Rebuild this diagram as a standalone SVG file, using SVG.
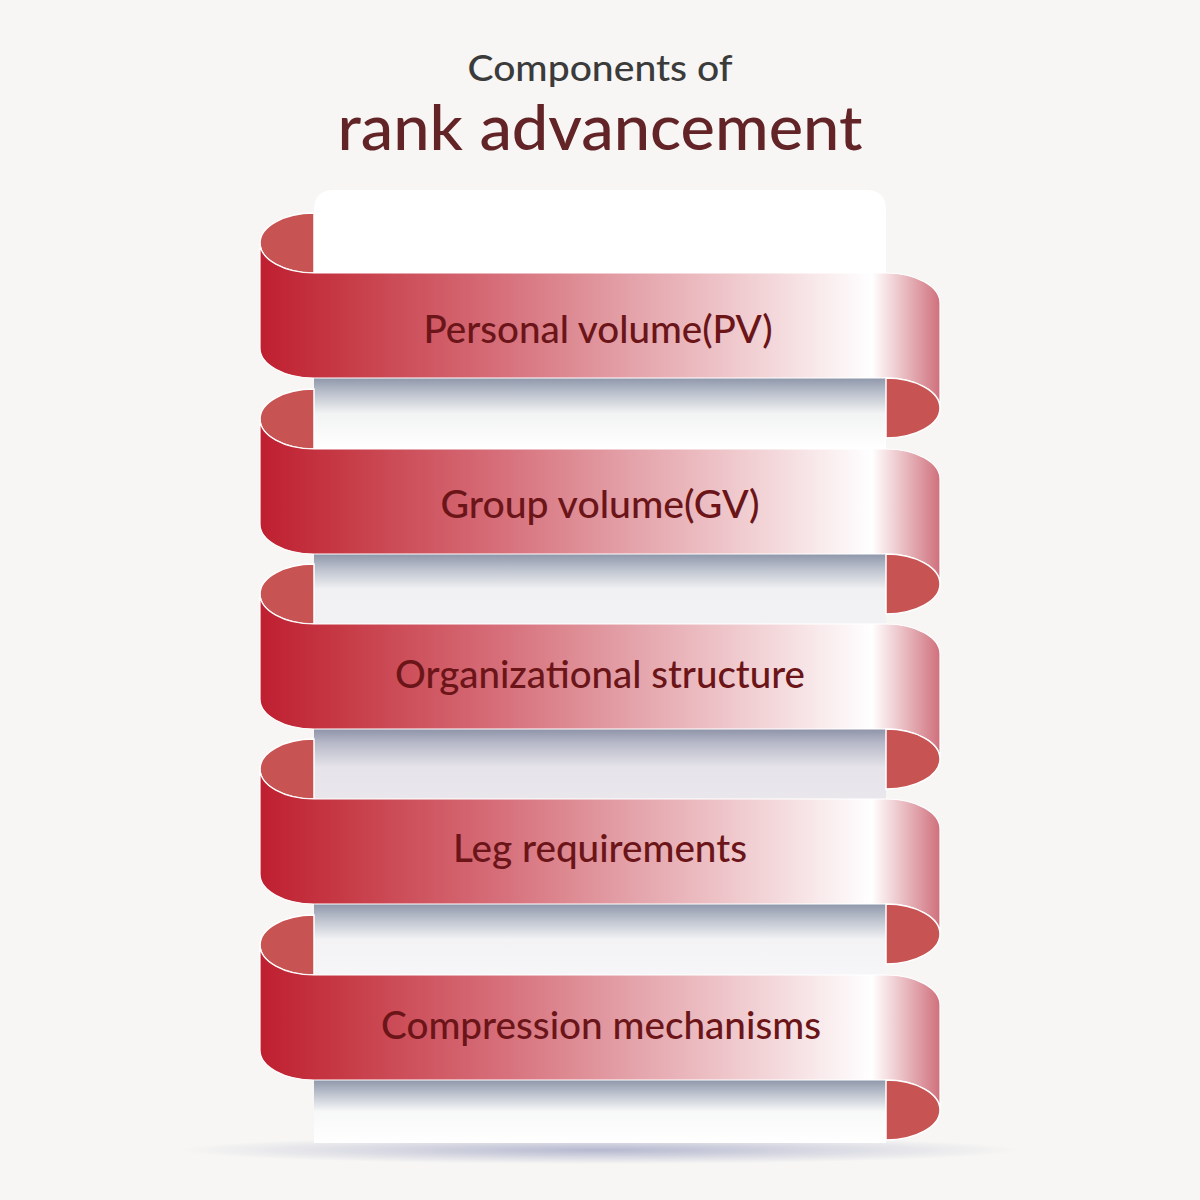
<svg xmlns="http://www.w3.org/2000/svg" width="1200" height="1200" viewBox="0 0 1200 1200">
<defs>
<linearGradient id="band" gradientUnits="userSpaceOnUse" x1="260" y1="0" x2="940" y2="0">
<stop offset="0" stop-color="#bf1f30"/>
<stop offset="0.12" stop-color="#c63a45"/>
<stop offset="0.35" stop-color="#d66e79"/>
<stop offset="0.55" stop-color="#e4a3aa"/>
<stop offset="0.75" stop-color="#f3d6d9"/>
<stop offset="0.9" stop-color="#ffffff"/>
<stop offset="1" stop-color="#d0707c"/>
</linearGradient>
<linearGradient id="p1" x1="0" y1="0" x2="0" y2="1">
<stop offset="0" stop-color="#8e97aa"/><stop offset="0.2" stop-color="#b9bfcb"/><stop offset="0.5" stop-color="#f2f3f3"/><stop offset="1" stop-color="#ffffff"/>
</linearGradient>
<linearGradient id="p2" x1="0" y1="0" x2="0" y2="1">
<stop offset="0" stop-color="#8e97aa"/><stop offset="0.2" stop-color="#b9bfcb"/><stop offset="0.5" stop-color="#f1f1f3"/><stop offset="1" stop-color="#f2f1f4"/>
</linearGradient>
<linearGradient id="p3" x1="0" y1="0" x2="0" y2="1">
<stop offset="0" stop-color="#8e93a8"/><stop offset="0.2" stop-color="#b7b9c8"/><stop offset="0.55" stop-color="#e6e4ea"/><stop offset="1" stop-color="#e9e6ec"/>
</linearGradient>
<linearGradient id="p4" x1="0" y1="0" x2="0" y2="1">
<stop offset="0" stop-color="#8e97aa"/><stop offset="0.2" stop-color="#b9bfcb"/><stop offset="0.5" stop-color="#f3f3f5"/><stop offset="1" stop-color="#f6f5f8"/>
</linearGradient>
<linearGradient id="p5" x1="0" y1="0" x2="0" y2="1">
<stop offset="0" stop-color="#8e97aa"/><stop offset="0.2" stop-color="#b9bfcb"/><stop offset="0.5" stop-color="#f7f8f8"/><stop offset="1" stop-color="#ffffff"/>
</linearGradient>
<radialGradient id="shadow" cx="0.5" cy="0.5" r="0.5">
<stop offset="0" stop-color="#9a9ec0" stop-opacity="0.7"/>
<stop offset="1" stop-color="#9a9ec0" stop-opacity="0"/>
</radialGradient>
<style>
.band{fill:url(#band);stroke:#ffffff;stroke-width:1.2}
.curl{fill:#c85353;stroke:#ffffff;stroke-width:1.5}
.lbl{font-family:Lato,"Liberation Sans",sans-serif;font-weight:500;font-size:38px;fill:#6b1519;text-anchor:middle}
.t1{font-family:Lato,"Liberation Sans",sans-serif;font-weight:500;font-size:37px;fill:#3b3b3b;text-anchor:middle}
.t2{font-family:Lato,"Liberation Sans",sans-serif;font-weight:500;font-size:61px;fill:#632427;text-anchor:middle}
</style>
</defs>
<rect width="1200" height="1200" fill="#f7f6f4"/>
<ellipse cx="600" cy="1150" rx="420" ry="14" fill="url(#shadow)"/>
<g id="title">
<text class="t1" x="600" y="81" textLength="265" lengthAdjust="spacingAndGlyphs">Components of</text>
<text class="t2" x="600" y="150" textLength="525" lengthAdjust="spacingAndGlyphs">rank advancement</text>
</g>
<g id="card">
<path d="M314 1143 L314 210 Q314 190 334 190 L866 190 Q886 190 886 210 L886 1143 Z" fill="#ffffff"/>
<rect x="314" y="378" width="572" height="71" fill="url(#p1)"/>
<rect x="314" y="554" width="572" height="70" fill="url(#p2)"/>
<rect x="314" y="729" width="572" height="70" fill="url(#p3)"/>
<rect x="314" y="904" width="572" height="71" fill="url(#p4)"/>
<rect x="314" y="1080" width="572" height="63" fill="url(#p5)"/>
</g>
<g id="node1">
<path class="curl" d="M314 213 A54 30 0 0 0 314 273 Z"/>
<path class="band" d="M260 243 A54 30 0 0 0 314 273 L886 273 A54 30 0 0 1 940 303 L940 408 A54 30 0 0 0 886 378 L314 378 A54 30 0 0 1 260 348 Z"/>
<path class="curl" d="M886 378 A54 30 0 0 1 886 438 Z"/>
<text class="lbl" x="598" y="343" textLength="349" lengthAdjust="spacingAndGlyphs">Personal volume(PV)</text>
</g>
<g id="node2">
<path class="curl" d="M314 389 A54 30 0 0 0 314 449 Z"/>
<path class="band" d="M260 419 A54 30 0 0 0 314 449 L886 449 A54 30 0 0 1 940 479 L940 584 A54 30 0 0 0 886 554 L314 554 A54 30 0 0 1 260 524 Z"/>
<path class="curl" d="M886 554 A54 30 0 0 1 886 614 Z"/>
<text class="lbl" x="600" y="518" textLength="319" lengthAdjust="spacingAndGlyphs">Group volume(GV)</text>
</g>
<g id="node3">
<path class="curl" d="M314 564 A54 30 0 0 0 314 624 Z"/>
<path class="band" d="M260 594 A54 30 0 0 0 314 624 L886 624 A54 30 0 0 1 940 654 L940 759 A54 30 0 0 0 886 729 L314 729 A54 30 0 0 1 260 699 Z"/>
<path class="curl" d="M886 729 A54 30 0 0 1 886 789 Z"/>
<text class="lbl" x="600" y="688" textLength="410" lengthAdjust="spacingAndGlyphs">Organizational structure</text>
</g>
<g id="node4">
<path class="curl" d="M314 739 A54 30 0 0 0 314 799 Z"/>
<path class="band" d="M260 769 A54 30 0 0 0 314 799 L886 799 A54 30 0 0 1 940 829 L940 934 A54 30 0 0 0 886 904 L314 904 A54 30 0 0 1 260 874 Z"/>
<path class="curl" d="M886 904 A54 30 0 0 1 886 964 Z"/>
<text class="lbl" x="600" y="862" textLength="294" lengthAdjust="spacingAndGlyphs">Leg requirements</text>
</g>
<g id="node5">
<path class="curl" d="M314 915 A54 30 0 0 0 314 975 Z"/>
<path class="band" d="M260 945 A54 30 0 0 0 314 975 L886 975 A54 30 0 0 1 940 1005 L940 1110 A54 30 0 0 0 886 1080 L314 1080 A54 30 0 0 1 260 1050 Z"/>
<path class="curl" d="M886 1080 A54 30 0 0 1 886 1140 Z"/>
<text class="lbl" x="601" y="1039" textLength="440" lengthAdjust="spacingAndGlyphs">Compression mechanisms</text>
</g>
<g id="connectors"></g>
</svg>
